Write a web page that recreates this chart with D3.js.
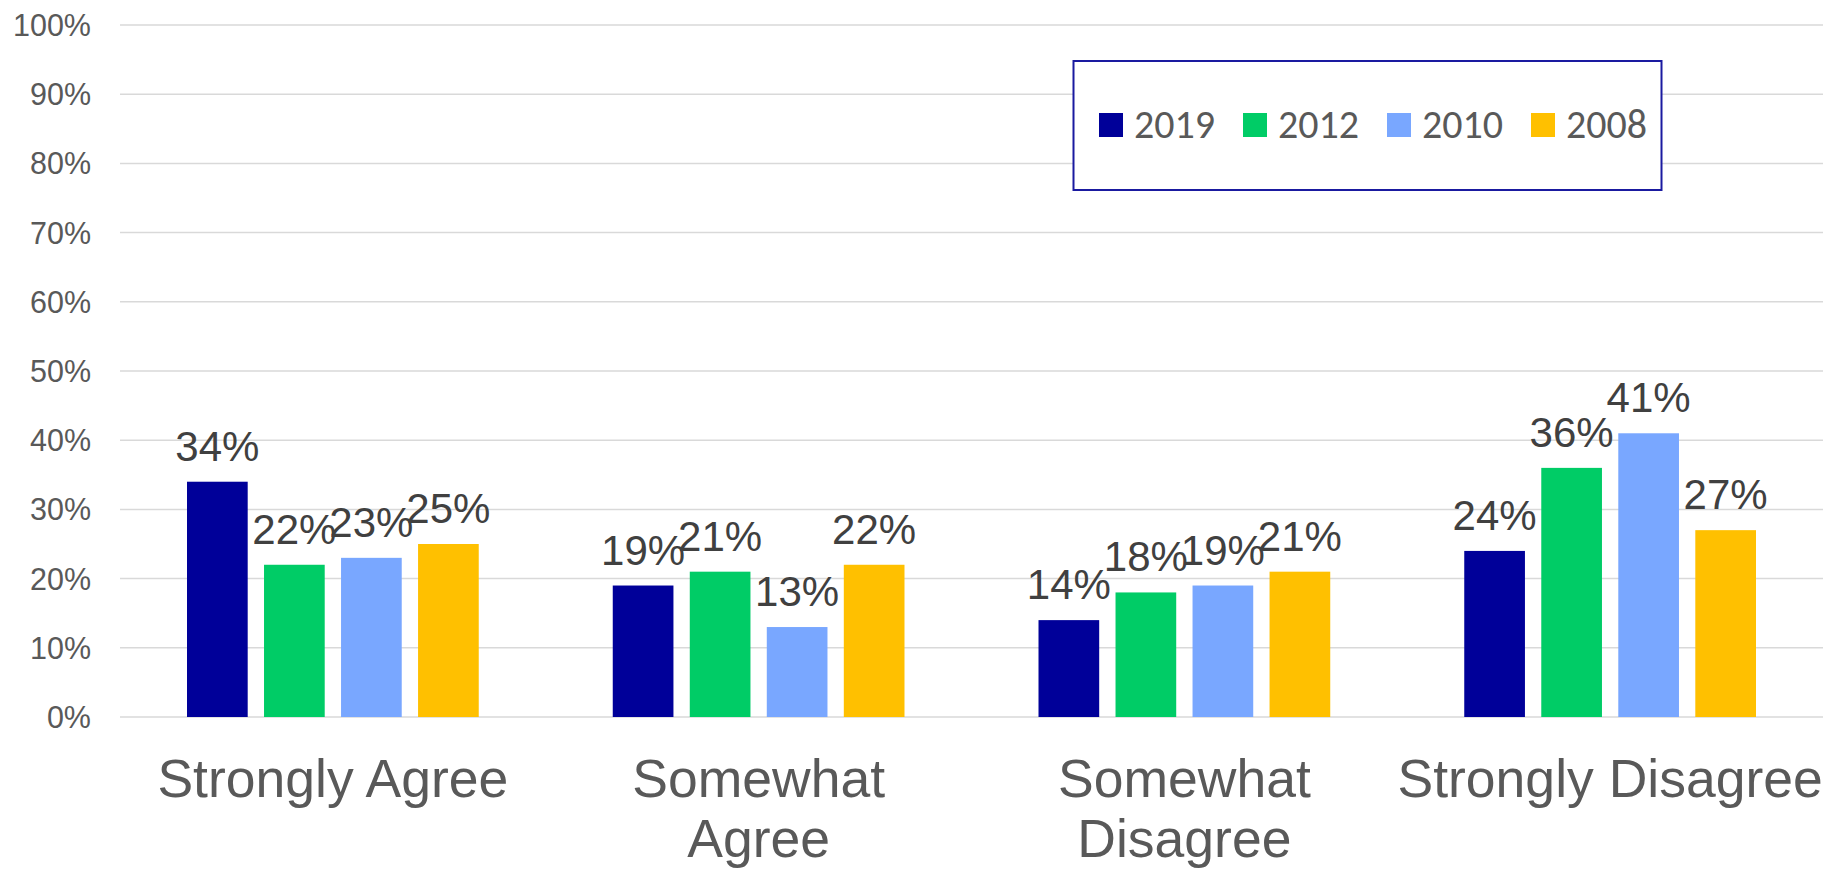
<!DOCTYPE html>
<html>
<head>
<meta charset="utf-8">
<script src="https://cdn.jsdelivr.net/npm/d3@7"></script>
<style>
  body { margin: 0; background: #fff; }
  svg { display: block; font-family: "Liberation Sans", Arial, sans-serif; }
</style>
</head>
<body>
<svg id="drawing_region"></svg>
<script>
const categories = [["Strongly Agree"], ["Somewhat", "Agree"], ["Somewhat", "Disagree"], ["Strongly Disagree"]];
const years = ["2019", "2012", "2010", "2008"];
const colors = ["#000099", "#00cc66", "#79a7ff", "#ffc000"];
const values = [
    [34, 22, 23, 25],
    [19, 21, 13, 22],
    [14, 18, 19, 21],
    [24, 36, 41, 27]
];
const yTicks = [0, 10, 20, 30, 40, 50, 60, 70, 80, 90, 100];

class GroupedBar {

    constructor( config ) {
        this.config = config;
        this.init();
    }

    init() {
        let self = this;
        self.svg = d3.select( self.config.parent )
            .attr('width', self.config.width)
            .attr('height', self.config.height);

        const m = self.config.margin;
        self.x0 = d3.scaleBand()
            .domain( d3.range(categories.length) )
            .range( [m.left, self.config.width - m.right] );

        self.x1 = d3.scaleBand()
            .domain( years )
            .range( [0, self.x0.bandwidth()] )
            .paddingInner(0.212)
            .paddingOuter(0.87);

        self.y = d3.scaleLinear()
            .domain( [0, 100] )
            .range( [m.bottomY, m.top] );

        self.color = d3.scaleOrdinal().domain(years).range(colors);
    }

    render() {
        let self = this;
        const m = self.config.margin;

        // gridlines + y labels
        self.svg.append('g')
            .selectAll('line')
            .data(yTicks)
            .join('line')
            .attr('x1', m.left)
            .attr('x2', self.config.width)
            .attr('y1', d => self.y(d))
            .attr('y2', d => self.y(d))
            .attr('stroke', '#d9d9d9')
            .attr('stroke-width', 1.5);

        self.svg.append('g')
            .selectAll('text')
            .data(yTicks)
            .join('text')
            .attr('x', 91)
            .attr('y', d => self.y(d))
            .attr('dy', '0.36em')
            .attr('text-anchor', 'end')
            .attr('fill', '#595959')
            .style('font-size', '30.5px')
            .text(d => d + '%');

        // bars
        const groups = self.svg.append('g')
            .selectAll('g')
            .data(values)
            .join('g')
            .attr('transform', (d, i) => `translate(${self.x0(i)},0)`);

        groups.selectAll('rect')
            .data(d => d.map((v, j) => ({ year: years[j], value: v })))
            .join('rect')
            .attr('x', d => self.x1(d.year))
            .attr('width', self.x1.bandwidth())
            .attr('y', d => self.y(d.value))
            .attr('height', d => self.y(0) - self.y(d.value))
            .attr('fill', d => self.color(d.year));

        groups.selectAll('text')
            .data(d => d.map((v, j) => ({ year: years[j], value: v })))
            .join('text')
            .attr('x', d => self.x1(d.year) + self.x1.bandwidth() / 2)
            .attr('y', d => self.y(d.value) - 21)
            .attr('text-anchor', 'middle')
            .attr('fill', '#404040')
            .style('font-size', '42px')
            .text(d => d.value + '%');

        // category labels
        const catLabels = self.svg.append('g')
            .selectAll('text')
            .data(categories)
            .join('text')
            .attr('x', (d, i) => self.x0(i) + self.x0.bandwidth() / 2)
            .attr('y', 797)
            .attr('text-anchor', 'middle')
            .attr('fill', '#595959')
            .style('font-size', '53.5px');

        catLabels.selectAll('tspan')
            .data(d => d)
            .join('tspan')
            .attr('x', function() { return d3.select(this.parentNode).attr('x'); })
            .attr('dy', (d, i) => i === 0 ? 0 : 60)
            .text(d => d);

        // legend
        const lg = self.svg.append('g');
        lg.append('rect')
            .attr('x', 1073.5)
            .attr('y', 61)
            .attr('width', 588)
            .attr('height', 129)
            .attr('fill', '#fff')
            .attr('stroke', '#1a1aa0')
            .attr('stroke-width', 2);

        const items = lg.selectAll('g')
            .data(years)
            .join('g')
            .attr('transform', (d, i) => `translate(${1099 + i * 144}, 113)`);

        items.append('rect')
            .attr('width', 24)
            .attr('height', 24)
            .attr('fill', d => self.color(d));

        items.append('text')
            .attr('x', 35)
            .attr('y', 12)
            .attr('dy', '0.33em')
            .attr('fill', '#595959')
            .style('font-family', '"Carlito", "Noto Sans", sans-serif')
            .style('font-size', '40px')
            .text(d => d);
    }
}

const chart = new GroupedBar({
    parent: '#drawing_region',
    width: 1823,
    height: 869,
    margin: { top: 25, right: 0, bottomY: 717, left: 120 }
});
chart.render();
</script>
</body>
</html>
